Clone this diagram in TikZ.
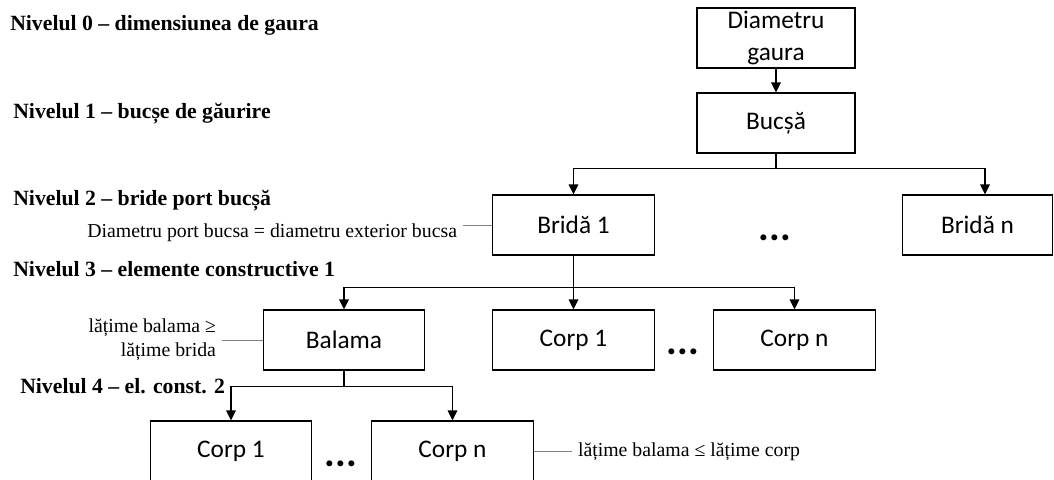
\documentclass[tikz,border=0pt]{standalone}
\usepackage{fontspec}
\setmainfont{Liberation Serif}
\newfontfamily\calibri{Carlito}
\usetikzlibrary{arrows.meta}

\begin{document}
\begin{tikzpicture}[x=.75pt, y=-.75pt,
		blok/.style={draw, line width=.8pt, minimum width=121pt, minimum height=45pt, inner sep=1pt, align=center, font=\calibri\fontsize{19}{23.5}\selectfont},
		arr/.style={line width=1.3pt, -{Triangle[length=7.5pt, width=7pt]}},
		note/.style={gray, line width=.7pt},
		nivel/.style={anchor=base west, inner sep=0pt, font=\fontsize{16.3}{19}\selectfont\bfseries},
		obs/.style={inner sep=0pt, outer sep=4.5pt, align=right, font=\fontsize{14.85}{18}\selectfont},
		puncte/.style={inner sep=0pt, font=\calibri\bfseries\fontsize{30}{30}\selectfont}]
	\useasboundingbox(0, 0)rectangle(1054, 479);
	\clip(0, 0)rectangle(1054, 479);
	\node[nivel](niv0)at(10, 30){Nivelul 0 – dimensiunea de gaura};
	\node[nivel](niv1)at(13, 118){Nivelul 1 – bucșe de găurire};
	\node[nivel](niv2)at(13, 205){Nivelul 2 – bride port bucșă};
	\node[nivel](niv3)at(13, 276){Nivelul 3 – elemente constructive 1};
	\node[nivel](niv4)at(20, 393){Nivelul 4 – el. const. 2};
	\node[blok, minimum width=118.5pt](gaura)at(776, 38){Diametru\\gaura};
	\node[blok, minimum width=118.5pt](bucsa)at(776, 123){Bucșă};
	\node[blok](brida1)at(573.5, 225){Bridă 1};
	\node[blok, minimum width=112pt](bridan)at(977.5, 225){Bridă n};
	\node[puncte](p1)at(775, 238){...};
	\node[blok](balama)at(344, 340){Balama};
	\node[blok](corp1)at(573.5, 340){Corp 1};
	\node[blok](corpn)at(794.5, 340){Corp n};
	\node[puncte](p2)at(683, 352){...};
	\node[blok](corp1b)at(231, 451){Corp 1};
	\node[blok](corpnb)at(452.5, 451){Corp n};
	\node[puncte](p3)at(341, 464){...};
	\draw[arr](gaura)--(bucsa);
	\draw[arr](bucsa.south)--++(0, 15)-|(brida1.north);
	\draw[arr](bucsa.south)--++(0, 15)-|([xshift=5.6pt]bridan.north);
	\draw[arr](brida1.south)--++(0, 32)-|(balama.north);
	\draw[arr](brida1.south)--(corp1.north);
	\draw[arr](brida1.south)--++(0, 32)-|(corpn.north);
	\draw[arr](balama.south)--++(0, 16)-|(corp1b.north);
	\draw[arr](balama.south)--++(0, 16)-|(corpnb.north);
	\node[obs, anchor=east](obs1)at(463, 233){Diametru port bucsa = diametru exterior bucsa};
	\node[obs, anchor=east](obs2)at(222, 340){lățime balama ≥\\lățime brida};
	\node[obs, anchor=west](obs3)at(572, 452){lățime balama ≤ lățime corp};
	\draw[note](brida1.west)--(obs1.east |- brida1.west);
	\draw[note](balama.west)--(obs2.east |- balama.west);
	\draw[note](corpnb.east)--(obs3.west |- corpnb.east);
\end{tikzpicture}
\end{document}
